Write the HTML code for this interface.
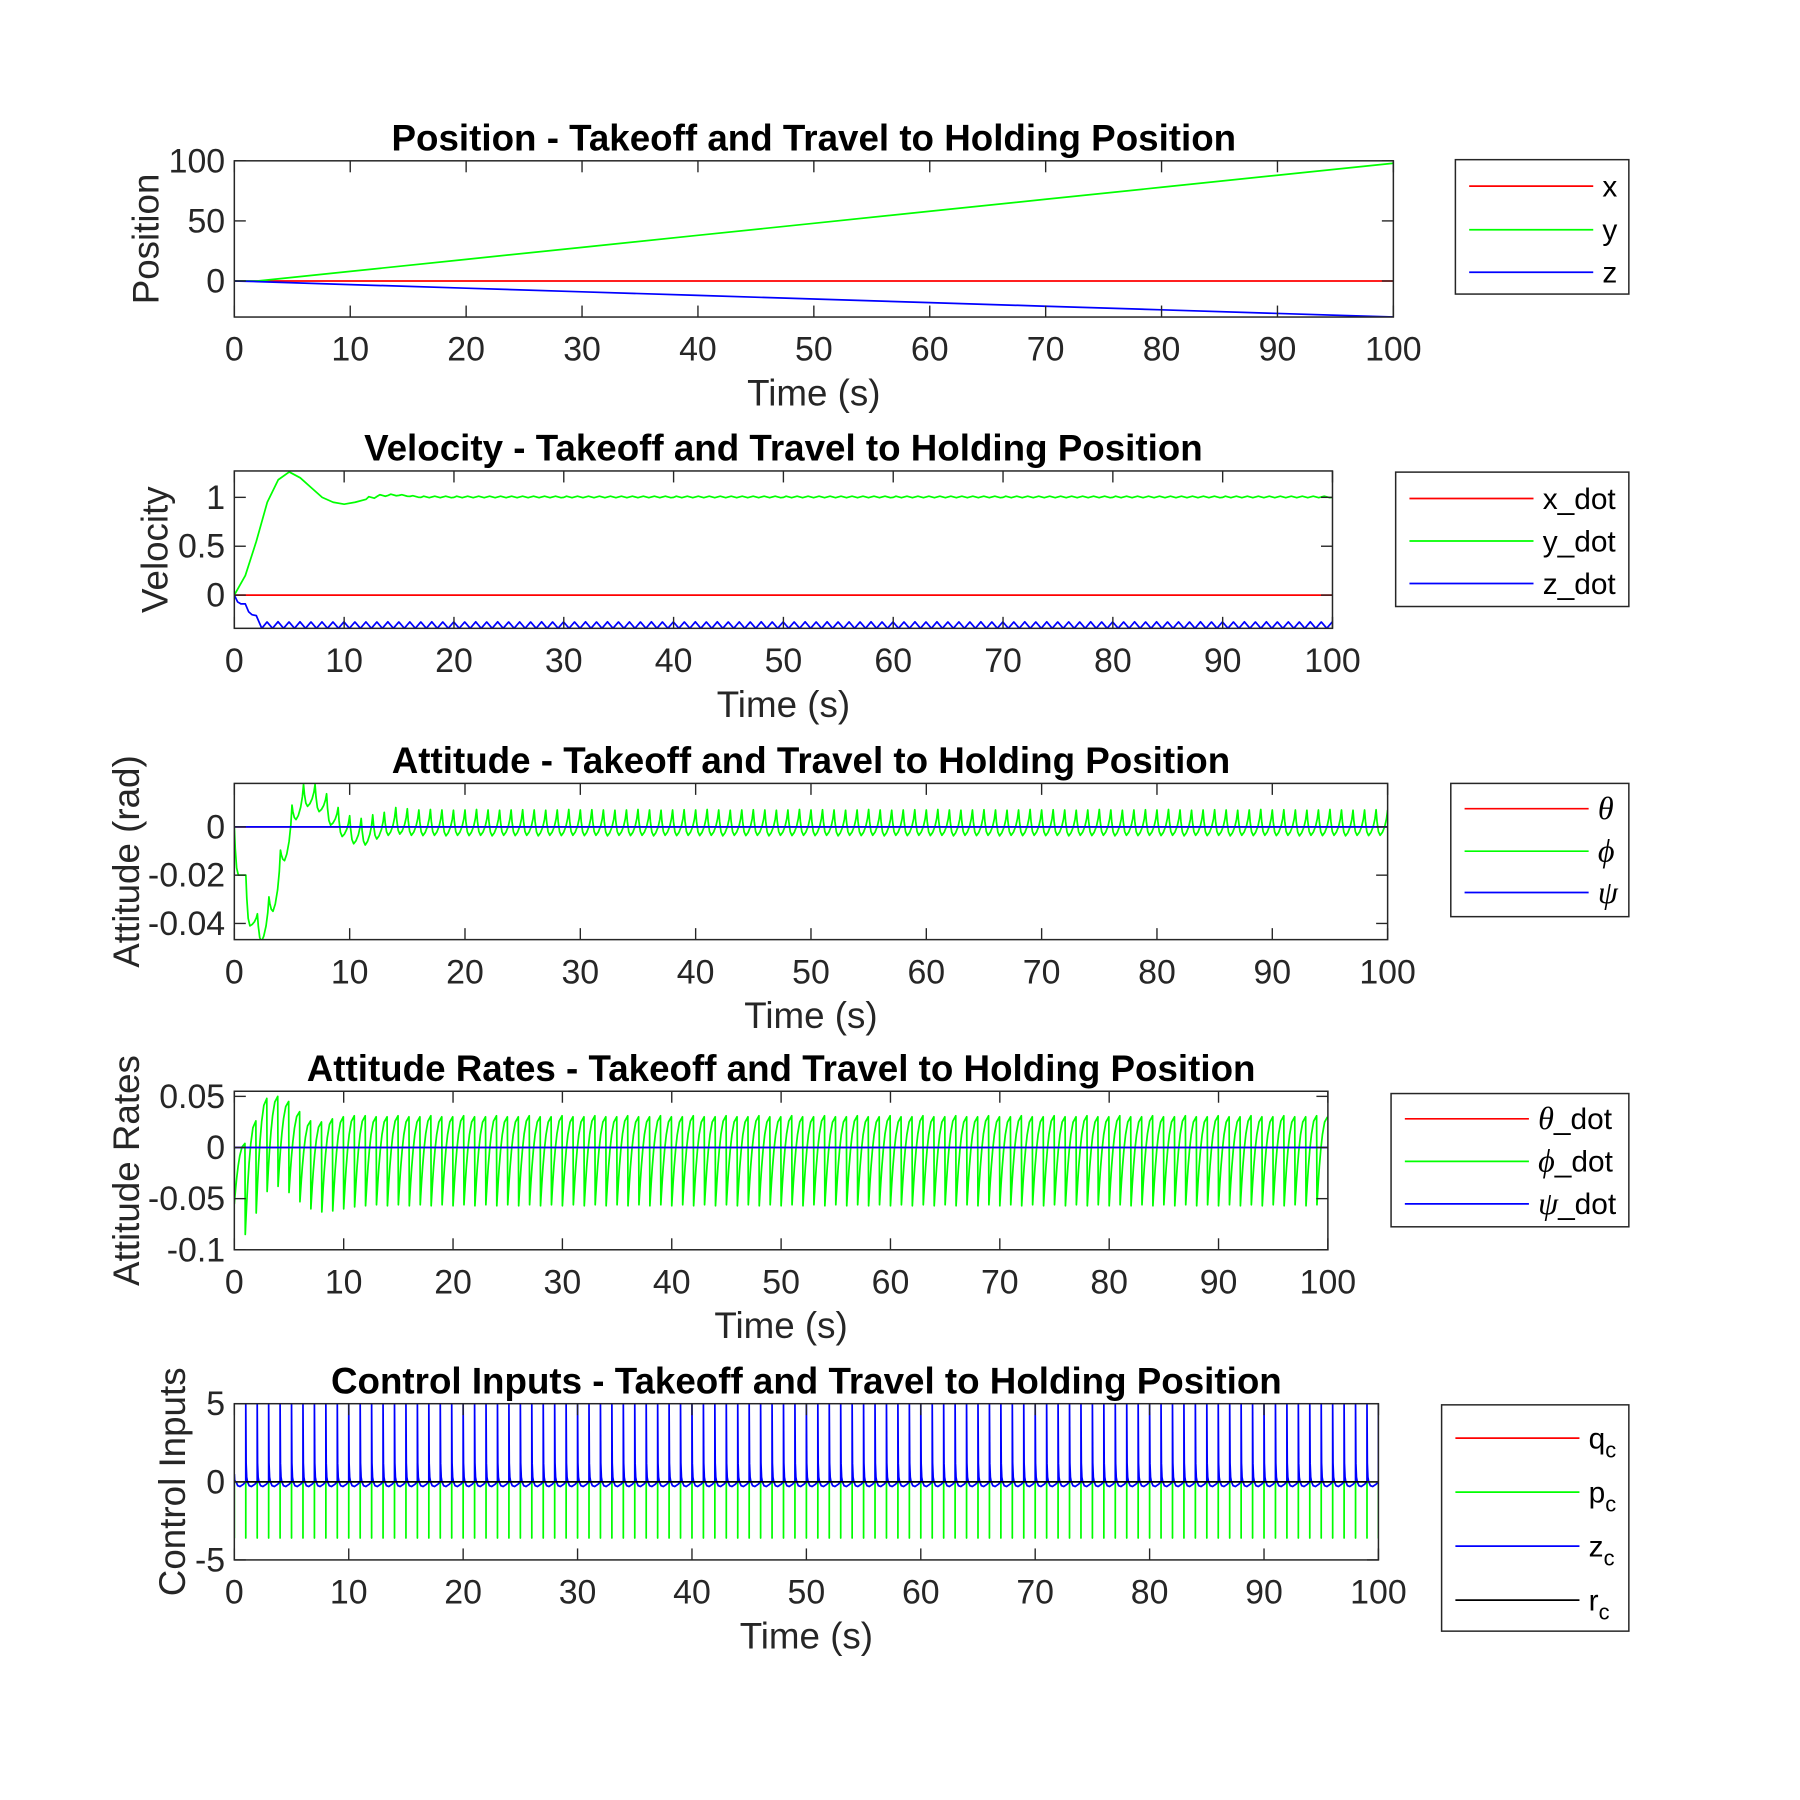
<!DOCTYPE html>
<html><head><meta charset="utf-8"><style>
html,body{margin:0;padding:0;background:#fff;}
svg{display:block;}
text{font-family:"Liberation Sans",Arial,sans-serif;fill:#262626;}
.ttl{font-weight:bold;fill:#000;font-size:32px;}
.tk{font-size:29.5px;}
.lab{font-size:32px;}
.lg{font-size:26px;fill:#000;}
.gk{font-family:"Liberation Serif","DejaVu Serif",serif;font-style:italic;font-size:28px;fill:#000;}
</style></head><body>
<svg id="fig" width="1800" height="1800" viewBox="0 0 1567 1567" xmlns="http://www.w3.org/2000/svg">
<rect x="0" y="0" width="1567" height="1567" fill="#fff"/>
</svg>
<script>
// ---------- data ----------
const posT = [0,2,10,20,30,40,50,60,70,80,90,100];
const posX = [0,0,0,0,0,0,0,0,0,0,0,0];
const posY = [0,0,8,18,28,38,48,58,68,78,88,98];
const posZ = [0,-0.5,-3,-6,-9,-12,-15,-18,-21,-24,-27,-30];

const velT = [0,1,2,3,4,5,6,7,8,9,10,11,12,13,14,15,16,17,20,30,40,50,60,70,80,90,100];
const velYdot = [0,0.2,0.55,0.95,1.18,1.26,1.2,1.1,1.0,0.95,0.93,0.95,0.98,1.01,1.02,1.02,1.01,1.0,1.0,1.0,1.0,1.0,1.0,1.0,1.0,1.0,1.0];
const yDotRipple = 0.012;
const zDotT0 = [0,0.3,0.6,1,1.3,1.6,2,2.5];
const zDotV0 = [0,-0.07,-0.09,-0.09,-0.17,-0.2,-0.21,-0.34];
const zDotHi = [-0.275,-0.272,-0.275,-0.273,-0.275,-0.274,-0.275,-0.273,-0.275,-0.274,
 -0.275,-0.273,-0.275,-0.274,-0.275,-0.273,-0.275,-0.274,-0.275,-0.273,
 -0.275,-0.273,-0.275,-0.274,-0.275,-0.273,-0.275,-0.274,-0.275,-0.273,
 -0.275,-0.273,-0.275,-0.274,-0.275,-0.273,-0.275,-0.274,-0.275,-0.273,
 -0.275,-0.273,-0.275,-0.274,-0.275,-0.273,-0.275,-0.274,-0.275,-0.273,
 -0.275,-0.273,-0.275,-0.274,-0.275,-0.273,-0.275,-0.274,-0.275,-0.273,
 -0.275,-0.273,-0.275,-0.274,-0.275,-0.273,-0.275,-0.274,-0.275,-0.273,
 -0.275,-0.273,-0.275,-0.274,-0.275,-0.273,-0.275,-0.274,-0.275,-0.273,
 -0.275,-0.273,-0.275,-0.274,-0.275,-0.273,-0.275,-0.274,-0.275,-0.273,
 -0.275,-0.273,-0.275,-0.274,-0.275,-0.273,-0.275,-0.274];
const zDotLo = -0.34;

const phiPeak = [0,-0.02,-0.036,-0.029,-0.0096,0.009,0.0176,0.0176,0.0137,0.008,
 0.0046,0.0035,0.005,0.006,0.008,0.0075,0.007,0.0072,0.007,0.0069,
 0.007,0.0072,0.007,0.0069,0.007,0.0071,0.007,0.0069,0.007,0.0072,
 0.007,0.0071,0.007,0.0069,0.007,0.0072,0.007,0.0069,0.007,0.0071,
 0.007,0.0072,0.007,0.0069,0.007,0.0071,0.007,0.0069,0.007,0.0072,
 0.007,0.0071,0.007,0.0069,0.007,0.0072,0.007,0.0069,0.007,0.0071,
 0.007,0.0072,0.007,0.0069,0.007,0.0071,0.007,0.0069,0.007,0.0072,
 0.007,0.0071,0.007,0.0069,0.007,0.0072,0.007,0.0069,0.007,0.0071,
 0.007,0.0072,0.007,0.0069,0.007,0.0071,0.007,0.0069,0.007,0.0072,
 0.007,0.0071,0.007,0.0069,0.007,0.0072,0.007,0.0069,0.007,0.0071,0.007];
const phiMin = [-0.02,-0.041,-0.0475,-0.035,-0.014,0.003,0.0085,0.0063,0.0007,-0.004,
 -0.007,-0.0075,-0.005,-0.0035,-0.003,-0.0035,-0.0036,-0.0035,-0.0037,-0.0035,
 -0.0036,-0.0035,-0.0037,-0.0035,-0.0036,-0.0035,-0.0037,-0.0035,-0.0036,-0.0035,
 -0.0036,-0.0035,-0.0037,-0.0035,-0.0036,-0.0035,-0.0037,-0.0035,-0.0036,-0.0035,
 -0.0036,-0.0035,-0.0037,-0.0035,-0.0036,-0.0035,-0.0037,-0.0035,-0.0036,-0.0035,
 -0.0036,-0.0035,-0.0037,-0.0035,-0.0036,-0.0035,-0.0037,-0.0035,-0.0036,-0.0035,
 -0.0036,-0.0035,-0.0037,-0.0035,-0.0036,-0.0035,-0.0037,-0.0035,-0.0036,-0.0035,
 -0.0036,-0.0035,-0.0037,-0.0035,-0.0036,-0.0035,-0.0037,-0.0035,-0.0036,-0.0035,
 -0.0036,-0.0035,-0.0037,-0.0035,-0.0036,-0.0035,-0.0037,-0.0035,-0.0036,-0.0035,
 -0.0036,-0.0035,-0.0037,-0.0035,-0.0036,-0.0035,-0.0037,-0.0035,-0.0036,-0.0035];

const pdMin = [-0.055,-0.085,-0.064,-0.043,-0.038,-0.044,-0.053,-0.06,-0.063,-0.062,
 -0.06,-0.058,-0.057,-0.056,-0.057,-0.056,-0.057,-0.056,-0.057,-0.056,
 -0.057,-0.056,-0.057,-0.056,-0.057,-0.056,-0.057,-0.056,-0.057,-0.056,
 -0.057,-0.056,-0.057,-0.056,-0.057,-0.056,-0.057,-0.056,-0.057,-0.056,
 -0.057,-0.056,-0.057,-0.056,-0.057,-0.056,-0.057,-0.056,-0.057,-0.056,
 -0.057,-0.056,-0.057,-0.056,-0.057,-0.056,-0.057,-0.056,-0.057,-0.056,
 -0.057,-0.056,-0.057,-0.056,-0.057,-0.056,-0.057,-0.056,-0.057,-0.056,
 -0.057,-0.056,-0.057,-0.056,-0.057,-0.056,-0.057,-0.056,-0.057,-0.056,
 -0.057,-0.056,-0.057,-0.056,-0.057,-0.056,-0.057,-0.056,-0.057,-0.056,
 -0.057,-0.056,-0.057,-0.056,-0.057,-0.056,-0.057,-0.056,-0.057,-0.056];
const pdMax = [0.004,0.026,0.048,0.05,0.045,0.035,0.026,0.025,0.028,0.03,
 0.031,0.031,0.03,0.03,0.031,0.03,0.03,0.031,0.03,0.03,
 0.031,0.03,0.03,0.031,0.03,0.03,0.031,0.03,0.03,0.031,
 0.03,0.03,0.031,0.03,0.03,0.031,0.03,0.03,0.031,0.03,
 0.03,0.031,0.03,0.03,0.031,0.03,0.03,0.031,0.03,0.03,
 0.031,0.03,0.03,0.031,0.03,0.03,0.031,0.03,0.03,0.031,
 0.03,0.03,0.031,0.03,0.03,0.031,0.03,0.03,0.031,0.03,
 0.03,0.031,0.03,0.03,0.031,0.03,0.03,0.031,0.03,0.03,
 0.031,0.03,0.03,0.031,0.03,0.03,0.031,0.03,0.03,0.031,
 0.03,0.03,0.031,0.03,0.03,0.031,0.03,0.03,0.031,0.03];

const zcPeak = [0.5,5,5,5,5,5,5,5,5,5, 5,5,5,5,5,5,5,5,5,5, 5,5,5,5,5,5,5,5,5,5,
 5,5,5,5,5,5,5,5,5,5, 5,5,5,5,5,5,5,5,5,5, 5,5,5,5,5,5,5,5,5,5, 5,5,5,5,5,5,5,5,5,5,
 5,5,5,5,5,5,5,5,5,5, 5,5,5,5,5,5,5,5,5,5, 5,5,5,5,5,5,5,5,5,5, 5];
const pcPeak = [-3.6,-3.6,-3.6,-3.6,-3.6,-3.6,-3.6,-3.6,-3.6,-3.6, -3.6,-3.6,-3.6,-3.6,-3.6,-3.6,-3.6,-3.6,-3.6,-3.6,
 -3.6,-3.6,-3.6,-3.6,-3.6,-3.6,-3.6,-3.6,-3.6,-3.6, -3.6,-3.6,-3.6,-3.6,-3.6,-3.6,-3.6,-3.6,-3.6,-3.6,
 -3.6,-3.6,-3.6,-3.6,-3.6,-3.6,-3.6,-3.6,-3.6,-3.6, -3.6,-3.6,-3.6,-3.6,-3.6,-3.6,-3.6,-3.6,-3.6,-3.6,
 -3.6,-3.6,-3.6,-3.6,-3.6,-3.6,-3.6,-3.6,-3.6,-3.6, -3.6,-3.6,-3.6,-3.6,-3.6,-3.6,-3.6,-3.6,-3.6,-3.6,
 -3.6,-3.6,-3.6,-3.6,-3.6,-3.6,-3.6,-3.6,-3.6,-3.6, -3.6,-3.6,-3.6,-3.6,-3.6,-3.6,-3.6,-3.6,-3.6,-3.6, -3.6];

const xTicks = [0,10,20,30,40,50,60,70,80,90,100];

// ---------- helpers ----------
const NS = "http://www.w3.org/2000/svg";
const fig = document.getElementById('fig');
function mk(tag, attrs, parent){ const e=document.createElementNS(NS,tag); for(const k in attrs) e.setAttribute(k,attrs[k]); (parent||fig).appendChild(e); return e; }

function makeAxes(id, L,R,T,B, ylo,yhi, yTicks, yTickLabels, title, ylabel, ylabX){
  const sx = v => L + (v-0)/(100-0)*(R-L);
  const sy = v => B - (v-ylo)/(yhi-ylo)*(B-T);
  const g = mk('g',{});
  
  
  const cp = mk('clipPath',{id:id+'-clip'},g);
  mk('rect',{x:L,y:T,width:R-L,height:B-T},cp);
  const plot = mk('g',{'clip-path':'url(#'+id+'-clip)'},g);
  
  
  xTicks.forEach(v=>{
    const x=sx(v);
    mk('line',{x1:x,y1:B,x2:x,y2:B-10,stroke:'#262626','stroke-width':1.2},g);
    mk('line',{x1:x,y1:T,x2:x,y2:T+10,stroke:'#262626','stroke-width':1.2},g);
    const t=mk('text',{x:x,y:B+38,'text-anchor':'middle',class:'tk'},g);
    
    
    t.textContent=String(v);
  });
  yTicks.forEach((v,i)=>{
    const y=sy(v);
    mk('line',{x1:L,y1:y,x2:L+10,y2:y,stroke:'#262626','stroke-width':1.2},g);
    mk('line',{x1:R,y1:y,x2:R-10,y2:y,stroke:'#262626','stroke-width':1.2},g);
    const t=mk('text',{x:L-8,y:y+10,'text-anchor':'end',class:'tk'},g);
    
    
    t.textContent=yTickLabels[i];
  });
  const xl=mk('text',{x:(L+R)/2,y:B+77,'text-anchor':'middle',class:'lab'},g);
  
  
  xl.textContent='Time (s)';
  const yl=mk('text',{x:ylabX,y:(T+B)/2,'text-anchor':'middle',class:'lab',transform:'rotate(-90 '+ylabX+' '+((T+B)/2)+')'},g);
  
  
  yl.textContent=ylabel;
  const tt=mk('text',{x:(L+R)/2,y:T-9,'text-anchor':'middle',class:'ttl'},g);
  
  
  tt.textContent=title;
  return {g,plot,sx,sy,L,R,T,B};
}
function finishAxes(ax){
  mk('rect',{x:ax.L,y:ax.T,width:ax.R-ax.L,height:ax.B-ax.T,fill:'none',stroke:'#262626','stroke-width':1.3},ax.g);
}
function line(ax, ts, vs, color, name){
  let d='';
  for(let i=0;i<ts.length;i++) d+=(i?'L':'M')+ax.sx(ts[i]).toFixed(2)+' '+ax.sy(vs[i]).toFixed(2);
  const p=mk('path',{d:d,fill:'none',stroke:color,'stroke-width':1.5,'stroke-linejoin':'round'},ax.plot);
  
  
  return p;
}
function legend(id, x,y,w,h, entries){
  const g=mk('g',{});
  
  
  mk('rect',{x:x,y:y,width:w,height:h,fill:'#fff',stroke:'#262626','stroke-width':1.3},g);
  entries.forEach(e=>{
    const row=mk('g',{},g);
    
    
    mk('line',{x1:x+12,y1:e.y,x2:x+120,y2:e.y,stroke:e.color,'stroke-width':1.5},row);
    const t=mk('text',{x:x+128,y:e.y+9,class:'lg'},row);
    t.innerHTML=e.html;
  });
}
const RED='#ff0000', GRN='#00ff00', BLU='#0000ff';

// ---------- Plot 1: Position ----------
(function(){
  const ax=makeAxes('position',204,1213,140,276,-30,100,[0,50,100],['0','50','100'],'Position - Takeoff and Travel to Holding Position','Position',138);
  line(ax,posT,posX,RED,'x-line');
  line(ax,posT,posY,GRN,'y-line');
  line(ax,posT,posZ,BLU,'z-line');
  finishAxes(ax);
  legend('position',1267,139,151,117,[
    {key:'x',y:162,color:RED,html:'x'},{key:'y',y:200,color:GRN,html:'y'},{key:'z',y:237,color:BLU,html:'z'}]);
})();

// ---------- Plot 2: Velocity ----------
(function(){
  const ax=makeAxes('velocity',204,1160,410,547,-0.34,1.27,[0,0.5,1],['0','0.5','1'],'Velocity - Takeoff and Travel to Holding Position','Velocity',146);
  line(ax,[0,100],[0,0],RED,'x-dot-line');
  const yt=[], yv=[];
  for(let i=0;i<velT.length;i++){
    yt.push(velT[i]); yv.push(velYdot[i]);
    if(i<velT.length-1 && velT[i]>=12){
      for(let s=velT[i]+0.5;s<velT[i+1];s+=1){
        const f=(s-velT[i])/(velT[i+1]-velT[i]);
        yt.push(s-0.25); yv.push(velYdot[i]+(velYdot[i+1]-velYdot[i])*f+yDotRipple);
        yt.push(s+0.25); yv.push(velYdot[i]+(velYdot[i+1]-velYdot[i])*f-yDotRipple*0.3);
      }
    }
  }
  line(ax,yt,yv,GRN,'y-dot-line');
  const ts=zDotT0.slice(), vs=zDotV0.slice();
  for(let k=0;k<zDotHi.length;k++){
    const t0=3+k;
    ts.push(t0-0.02); vs.push(zDotHi[k]);
    ts.push(t0+0.48); vs.push(zDotLo);
  }
  ts.push(100); vs.push(-0.3);
  line(ax,ts,vs,BLU,'z-dot-line');
  finishAxes(ax);
  legend('velocity',1215,411,203,117,[
    {key:'x-dot',y:434,color:RED,html:'x_dot'},{key:'y-dot',y:471,color:GRN,html:'y_dot'},{key:'z-dot',y:508,color:BLU,html:'z_dot'}]);
})();

// ---------- Plot 3: Attitude ----------
(function(){
  const ax=makeAxes('attitude',204,1208,682,818,-0.0467,0.018,[-0.04,-0.02,0],['-0.04','-0.02','0'],'Attitude - Takeoff and Travel to Holding Position','Attitude (rad)',121);
  line(ax,[0,100],[0,0],RED,'theta-line');
  const ts=[], vs=[];
  const dn=[0,0.45,0.85,1], du=[0,0.08,0.2,0.35];
  const up=[0.12,0.35,0.65,1], uu=[0.55,0.75,0.9,1];
  for(let k=0;k<phiMin.length;k++){
    const P=phiPeak[k], m=phiMin[k], P1=phiPeak[k+1];
    for(let j=0;j<4;j++){ if(k>0&&j==0) continue; ts.push(k+du[j]); vs.push(P+(m-P)*dn[j]); }
    for(let j=0;j<4;j++){ ts.push(k+uu[j]); vs.push(m+(P1-m)*up[j]); }
  }
  line(ax,ts,vs,GRN,'phi-line');
  line(ax,[0,100],[0,0],BLU,'psi-line');
  finishAxes(ax);
  legend('attitude',1263,682,155,116,[
    {key:'theta',y:704,color:RED,html:'<tspan class="gk">θ</tspan>'},
    {key:'phi',y:741,color:GRN,html:'<tspan class="gk">ϕ</tspan>'},
    {key:'psi',y:777,color:BLU,html:'<tspan class="gk">ψ</tspan>'}]);
})();

// ---------- Plot 4: Attitude Rates ----------
(function(){
  const ax=makeAxes('rates',204,1156,950,1088,-0.1,0.055,[-0.1,-0.05,0,0.05],['-0.1','-0.05','0','0.05'],'Attitude Rates - Takeoff and Travel to Holding Position','Attitude Rates',121);
  line(ax,[0,100],[0,0],RED,'theta-dot-line');
  const ts=[0], vs=[0];
  const us=[0,0.05,0.12,0.22,0.35,0.5,0.7,0.97];
  for(let k=0;k<pdMin.length;k++){
    const a=pdMin[k], b=pdMax[k];
    us.forEach(u=>{ const f=1-Math.pow(1-u/0.97,2.2); ts.push(k+u); vs.push(a+(b-a)*f); });
  }
  line(ax,ts,vs,GRN,'phi-dot-line');
  line(ax,[0,100],[0,0],BLU,'psi-dot-line');
  finishAxes(ax);
  legend('rates',1211,952,207,116,[
    {key:'theta-dot',y:974,color:RED,html:'<tspan class="gk">θ</tspan>_dot'},
    {key:'phi-dot',y:1011,color:GRN,html:'<tspan class="gk">ϕ</tspan>_dot'},
    {key:'psi-dot',y:1048,color:BLU,html:'<tspan class="gk">ψ</tspan>_dot'}]);
})();

// ---------- Plot 5: Control Inputs ----------
(function(){
  const ax=makeAxes('control',204,1200,1222,1358,-5,5,[-5,0,5],['-5','0','5'],'Control Inputs - Takeoff and Travel to Holding Position','Control Inputs',161);
  line(ax,[0,100],[0,0],RED,'qc-line');
  const gt=[], gv=[];
  for(let k=0;k<pcPeak.length;k++){ gt.push(k,k,k+0.001); gv.push(0,pcPeak[k],0); }
  line(ax,gt,gv,GRN,'pc-line');
  const bt=[], bv=[];
  const us=[0,0.03,0.08,0.15,0.3,0.5,0.8,0.999];
  const sh=[1,0.24,0.06,0,-0.05,-0.06,-0.03,0];
  for(let k=0;k<zcPeak.length;k++){
    const p=zcPeak[k];
    us.forEach((u,j)=>{ if(k+u>100) return; bt.push(k+u); bv.push(j<3?p*sh[j]:5*sh[j]); });
  }
  line(ax,bt,bv,BLU,'zc-line');
  line(ax,[0,100],[0,0],'#000','rc-line');
  finishAxes(ax);
  legend('control',1255,1223,163,197,[
    {key:'qc',y:1252,color:RED,html:'q<tspan dy="8" font-size="19">c</tspan>'},
    {key:'pc',y:1299,color:GRN,html:'p<tspan dy="8" font-size="19">c</tspan>'},
    {key:'zc',y:1346,color:BLU,html:'z<tspan dy="8" font-size="19">c</tspan>'},
    {key:'rc',y:1393,color:'#000',html:'r<tspan dy="8" font-size="19">c</tspan>'}]);
})();
</script>
</body></html>
